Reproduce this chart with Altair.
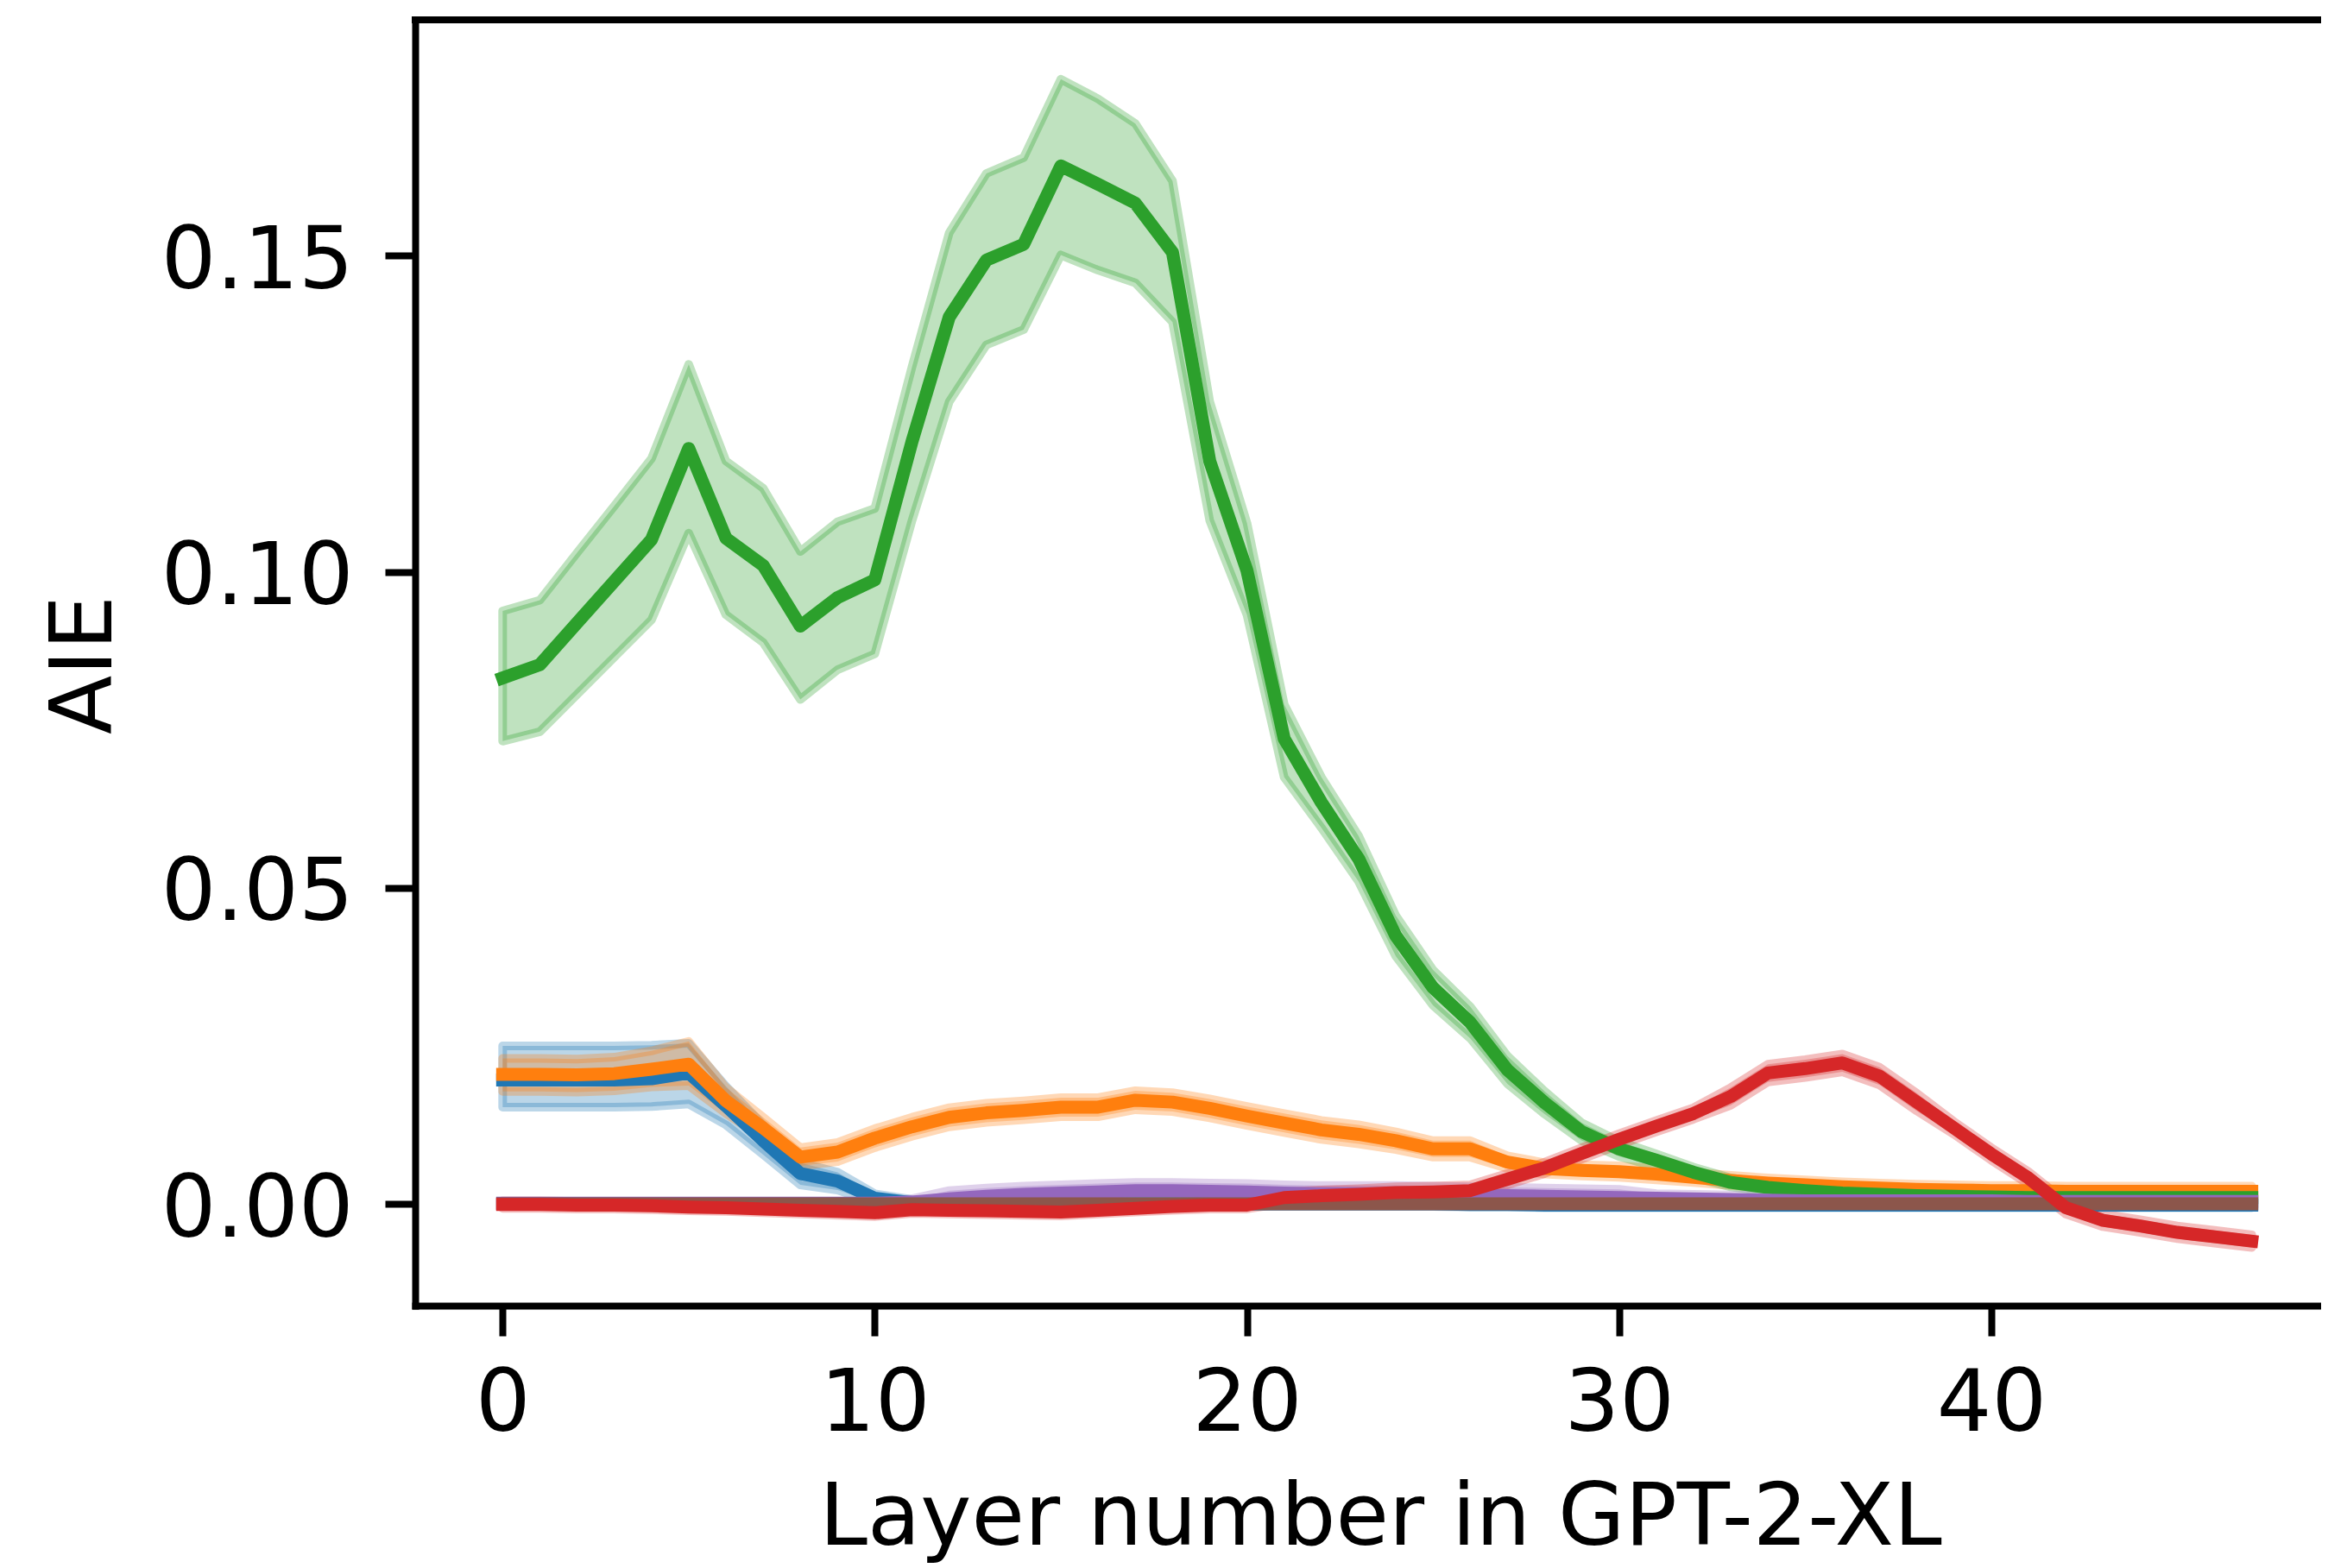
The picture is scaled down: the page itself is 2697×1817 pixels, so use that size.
import altair as alt
import pandas as pd

layers = list(range(48))

blue_mean = [0.0196, 0.0196, 0.0196, 0.0196, 0.0198, 0.0207, 0.0155, 0.0100, 0.0048, 0.0036,
             0.0009, 0.0002, 0.0000, 0.0000, 0.0000, 0.0000, 0.0000, 0.0000, 0.0000, 0.0000,
             0.0000, 0.0000, 0.0000, 0.0000, 0.0000, 0.0000, -0.0001, -0.0001, -0.0002, -0.0002,
             -0.0002, -0.0002, -0.0002, -0.0002, -0.0002, -0.0002, -0.0002, -0.0002, -0.0002, -0.0002,
             -0.0002, -0.0002, -0.0002, -0.0002, -0.0002, -0.0002, -0.0002, -0.0002]
blue_lo = [0.0153, 0.0153, 0.0153, 0.0153, 0.0154, 0.0158, 0.0125, 0.0078, 0.0030, 0.0022,
           0.0002, -0.0003, -0.0004, -0.0004, -0.0004, -0.0004, -0.0004, -0.0004, -0.0004, -0.0004,
           -0.0004, -0.0004, -0.0004, -0.0004, -0.0004, -0.0004, -0.0005, -0.0005, -0.0006, -0.0006,
           -0.0006, -0.0006, -0.0006, -0.0006, -0.0006, -0.0006, -0.0006, -0.0006, -0.0006, -0.0006,
           -0.0006, -0.0006, -0.0006, -0.0006, -0.0006, -0.0006, -0.0006, -0.0006]
blue_hi = [0.0250, 0.0250, 0.0250, 0.0250, 0.0251, 0.0254, 0.0186, 0.0125, 0.0065, 0.0050,
           0.0016, 0.0007, 0.0004, 0.0004, 0.0004, 0.0004, 0.0004, 0.0004, 0.0004, 0.0004,
           0.0004, 0.0004, 0.0004, 0.0004, 0.0004, 0.0004, 0.0003, 0.0003, 0.0002, 0.0002,
           0.0002, 0.0002, 0.0002, 0.0002, 0.0002, 0.0002, 0.0002, 0.0002, 0.0002, 0.0002,
           0.0002, 0.0002, 0.0002, 0.0002, 0.0002, 0.0002, 0.0002, 0.0002]

orange_mean = [0.0205, 0.0205, 0.0204, 0.0206, 0.0213, 0.0221, 0.0163, 0.0120, 0.0074, 0.0082,
               0.0104, 0.0122, 0.0137, 0.0144, 0.0148, 0.0153, 0.0153, 0.0164, 0.0161, 0.0151,
               0.0139, 0.0128, 0.0117, 0.0110, 0.0100, 0.0087, 0.0087, 0.0066, 0.0056, 0.0053,
               0.0051, 0.0047, 0.0042, 0.0037, 0.0033, 0.0030, 0.0027, 0.0025, 0.0023, 0.0022,
               0.0021, 0.0021, 0.0020, 0.0020, 0.0020, 0.0020, 0.0020, 0.0020]
orange_lo = [0.0178, 0.0178, 0.0177, 0.0179, 0.0185, 0.0187, 0.0143, 0.0104, 0.0060, 0.0067,
             0.0089, 0.0107, 0.0122, 0.0129, 0.0133, 0.0138, 0.0138, 0.0149, 0.0146, 0.0136,
             0.0124, 0.0113, 0.0102, 0.0095, 0.0086, 0.0074, 0.0074, 0.0056, 0.0047, 0.0044,
             0.0042, 0.0038, 0.0034, 0.0029, 0.0025, 0.0022, 0.0019, 0.0017, 0.0015, 0.0014,
             0.0013, 0.0013, 0.0012, 0.0012, 0.0012, 0.0012, 0.0012, 0.0012]
orange_hi = [0.0230, 0.0230, 0.0229, 0.0232, 0.0242, 0.0257, 0.0184, 0.0137, 0.0089, 0.0097,
             0.0119, 0.0137, 0.0152, 0.0159, 0.0163, 0.0168, 0.0168, 0.0179, 0.0176, 0.0166,
             0.0154, 0.0143, 0.0132, 0.0125, 0.0114, 0.0100, 0.0100, 0.0076, 0.0065, 0.0062,
             0.0060, 0.0056, 0.0050, 0.0045, 0.0041, 0.0038, 0.0035, 0.0033, 0.0031, 0.0030,
             0.0029, 0.0029, 0.0028, 0.0028, 0.0028, 0.0028, 0.0028, 0.0028]

green_mean = [0.0832, 0.0853, 0.0919, 0.0985, 0.1051, 0.1195, 0.1053, 0.1010, 0.0914, 0.0959,
              0.0987, 0.1206, 0.1403, 0.1493, 0.1518, 0.1642, 0.1613, 0.1583, 0.1505, 0.1175,
              0.1002, 0.0736, 0.0635, 0.0546, 0.0424, 0.0342, 0.0287, 0.0212, 0.0160, 0.0114,
              0.0087, 0.0069, 0.0050, 0.0034, 0.0026, 0.0021, 0.0017, 0.0015, 0.0013, 0.0012,
              0.0011, 0.0010, 0.0010, 0.0010, 0.0010, 0.0010, 0.0010, 0.0010]
green_lo = [0.0732, 0.0747, 0.0806, 0.0865, 0.0924, 0.1061, 0.0932, 0.0888, 0.0798, 0.0845,
            0.0870, 0.1081, 0.1269, 0.1359, 0.1383, 0.1501, 0.1477, 0.1457, 0.1395, 0.1081,
            0.0932, 0.0675, 0.0595, 0.0510, 0.0392, 0.0314, 0.0262, 0.0190, 0.0142, 0.0100,
            0.0075, 0.0059, 0.0042, 0.0027, 0.0019, 0.0014, 0.0011, 0.0009, 0.0007, 0.0006,
            0.0005, 0.0004, 0.0004, 0.0004, 0.0004, 0.0004, 0.0004, 0.0004]
green_hi = [0.0938, 0.0955, 0.1030, 0.1104, 0.1179, 0.1328, 0.1175, 0.1132, 0.1032, 0.1079,
            0.1100, 0.1324, 0.1536, 0.1630, 0.1655, 0.1779, 0.1748, 0.1709, 0.1618, 0.1269,
            0.1077, 0.0790, 0.0675, 0.0582, 0.0456, 0.0370, 0.0312, 0.0234, 0.0178, 0.0128,
            0.0099, 0.0079, 0.0058, 0.0041, 0.0033, 0.0028, 0.0023, 0.0021, 0.0019, 0.0018,
            0.0017, 0.0016, 0.0016, 0.0016, 0.0016, 0.0016, 0.0016, 0.0016]

purple_mean = [0.0001, 0.0001, 0.0001, 0.0001, 0.0001, 0.0001, 0.0001, 0.0001, 0.0001, 0.0001,
               0.0001, 0.0003, 0.0008, 0.0012, 0.0015, 0.0017, 0.0019, 0.0021, 0.0021, 0.0020,
               0.0019, 0.0017, 0.0016, 0.0016, 0.0016, 0.0015, 0.0014, 0.0013, 0.0012, 0.0011,
               0.0010, 0.0009, 0.0008, 0.0007, 0.0006, 0.0005, 0.0005, 0.0005, 0.0005, 0.0005,
               0.0005, 0.0004, 0.0004, 0.0004, 0.0004, 0.0004, 0.0004, 0.0004]
purple_lo = [-0.0002, -0.0002, -0.0002, -0.0002, -0.0002, -0.0002, -0.0002, -0.0002, -0.0002, -0.0002,
             -0.0002, -0.0002, -0.0005, -0.0001, 0.0002, 0.0004, 0.0006, 0.0008, 0.0008, 0.0007,
             0.0006, 0.0004, 0.0003, 0.0003, 0.0003, 0.0002, 0.0001, 0.0000, -0.0001, -0.0002,
             -0.0003, 0.0002, 0.0001, 0.0000, -0.0001, -0.0002, -0.0002, -0.0002, -0.0002, -0.0002,
             -0.0002, -0.0003, -0.0003, -0.0003, -0.0003, -0.0003, -0.0003, -0.0003]
purple_hi = [0.0004, 0.0004, 0.0004, 0.0004, 0.0004, 0.0004, 0.0004, 0.0004, 0.0004, 0.0004,
             0.0004, 0.0008, 0.0021, 0.0025, 0.0028, 0.0030, 0.0032, 0.0034, 0.0034, 0.0033,
             0.0032, 0.0030, 0.0029, 0.0029, 0.0029, 0.0028, 0.0027, 0.0026, 0.0025, 0.0024,
             0.0023, 0.0016, 0.0015, 0.0014, 0.0013, 0.0012, 0.0012, 0.0012, 0.0012, 0.0012,
             0.0012, 0.0011, 0.0011, 0.0011, 0.0011, 0.0011, 0.0011, 0.0011]

brown_mean = [0.0000, 0.0000, 0.0000, 0.0000, 0.0000, 0.0000, 0.0000, 0.0000, 0.0000, 0.0000,
              0.0000, 0.0000, 0.0000, 0.0000, 0.0000, 0.0000, 0.0000, 0.0000, 0.0000, 0.0000,
              0.0000, 0.0000, 0.0000, 0.0000, 0.0000, 0.0000, 0.0000, 0.0000, 0.0000, 0.0000,
              0.0000, 0.0000, 0.0000, 0.0000, 0.0000, 0.0000, 0.0000, 0.0000, 0.0000, 0.0000,
              0.0000, 0.0000, 0.0000, 0.0000, 0.0000, 0.0000, 0.0000, 0.0000]
brown_lo = [-0.0003, -0.0003, -0.0003, -0.0003, -0.0003, -0.0003, -0.0003, -0.0003, -0.0003, -0.0003,
            -0.0003, -0.0003, -0.0003, -0.0003, -0.0003, -0.0003, -0.0003, -0.0003, -0.0003, -0.0003,
            -0.0003, -0.0003, -0.0003, -0.0003, -0.0003, -0.0003, -0.0003, -0.0003, -0.0003, -0.0003,
            -0.0003, -0.0003, -0.0003, -0.0003, -0.0003, -0.0003, -0.0003, -0.0003, -0.0003, -0.0003,
            -0.0003, -0.0003, -0.0003, -0.0003, -0.0003, -0.0003, -0.0003, -0.0003]
brown_hi = [0.0003, 0.0003, 0.0003, 0.0003, 0.0003, 0.0003, 0.0003, 0.0003, 0.0003, 0.0003,
            0.0003, 0.0003, 0.0003, 0.0003, 0.0003, 0.0003, 0.0003, 0.0003, 0.0003, 0.0003,
            0.0003, 0.0003, 0.0003, 0.0003, 0.0003, 0.0003, 0.0003, 0.0003, 0.0003, 0.0003,
            0.0003, 0.0003, 0.0003, 0.0003, 0.0003, 0.0003, 0.0003, 0.0003, 0.0003, 0.0003,
            0.0003, 0.0003, 0.0003, 0.0003, 0.0003, 0.0003, 0.0003, 0.0003]

red_mean = [-0.0001, -0.0001, -0.0002, -0.0002, -0.0003, -0.0005, -0.0006, -0.0008, -0.0010, -0.0012,
            -0.0014, -0.0009, -0.0010, -0.0011, -0.0012, -0.0013, -0.0010, -0.0007, -0.0004, -0.0002,
            -0.0002, 0.0010, 0.0013, 0.0015, 0.0018, 0.0019, 0.0021, 0.0039, 0.0057, 0.0080,
            0.0102, 0.0123, 0.0143, 0.0170, 0.0207, 0.0214, 0.0223, 0.0202, 0.0161, 0.0120,
            0.0079, 0.0041, -0.0006, -0.0026, -0.0035, -0.0045, -0.0052, -0.0059]
red_lo = [-0.0007, -0.0007, -0.0008, -0.0008, -0.0009, -0.0011, -0.0012, -0.0014, -0.0016, -0.0018,
          -0.0020, -0.0015, -0.0016, -0.0017, -0.0018, -0.0019, -0.0016, -0.0013, -0.0010, -0.0008,
          -0.0008, 0.0001, 0.0004, 0.0006, 0.0009, 0.0010, 0.0012, 0.0030, 0.0048, 0.0071,
          0.0093, 0.0114, 0.0134, 0.0156, 0.0193, 0.0200, 0.0209, 0.0188, 0.0147, 0.0110,
          0.0069, 0.0031, -0.0016, -0.0036, -0.0045, -0.0055, -0.0062, -0.0069]
red_hi = [0.0005, 0.0005, 0.0004, 0.0004, 0.0003, 0.0001, 0.0000, -0.0002, -0.0004, -0.0006,
          -0.0008, -0.0003, -0.0004, -0.0005, -0.0006, -0.0007, -0.0004, -0.0001, 0.0002, 0.0004,
          0.0004, 0.0019, 0.0022, 0.0024, 0.0027, 0.0028, 0.0030, 0.0048, 0.0066, 0.0089,
          0.0111, 0.0132, 0.0152, 0.0184, 0.0221, 0.0228, 0.0237, 0.0216, 0.0175, 0.0130,
          0.0089, 0.0051, 0.0004, -0.0016, -0.0025, -0.0035, -0.0042, -0.0049]

# drawing order (last drawn on top); names sort in the same order
series_names = ["s1_blue", "s2_orange", "s3_green", "s4_purple", "s5_brown", "s6_red"]
series_colors = ["#1f77b4", "#ff7f0e", "#2ca02c", "#9467bd", "#8c564b", "#d62728"]
series_mean = [blue_mean, orange_mean, green_mean, purple_mean, brown_mean, red_mean]
series_lo = [blue_lo, orange_lo, green_lo, purple_lo, brown_lo, red_lo]
series_hi = [blue_hi, orange_hi, green_hi, purple_hi, brown_hi, red_hi]

x_ticks = [0, 10, 20, 30, 40]
y_ticks = [0.0, 0.05, 0.10, 0.15]

df = pd.concat(
    [pd.DataFrame({"layer": layers, "mean": m, "lo": lo, "hi": hi, "series": n})
     for n, m, lo, hi in zip(series_names, series_mean, series_lo, series_hi)],
    ignore_index=True,
)

# the original axes run a little past the right edge of the picture (it is cropped there)
W, H = 2229, 1490
FONT = "DejaVu Sans"

xscale = alt.Scale(domain=[-2.35, 49.35], nice=False, zero=False)
yscale = alt.Scale(domain=[-0.0161, 0.1873], nice=False, zero=False)
cscale = alt.Scale(domain=series_names, range=series_colors)

common_axis = dict(
    grid=False, domain=True, domainColor="black", domainWidth=8, domainCap="square",
    ticks=True, tickColor="black", tickWidth=8, tickSize=35,
    labelFont=FONT, labelFontSize=100, labelColor="black", labelOverlap=False, labelFlush=False,
    labelLimit=1000,
    titleFont=FONT, titleFontSize=100, titleFontWeight="normal", titleColor="black",
    titleLimit=3000,
)
xaxis = alt.Axis(values=x_ticks, format="d", labelPadding=30, labelAngle=0,
                 title="Layer number in GPT-2-XL", titleX=1118, titleY=276,
                 titleAlign="center", titleBaseline="alphabetic", titleAngle=0, **common_axis)
yaxis = alt.Axis(values=y_ticks, format=".2f", labelPadding=37, labelOffset=7,
                 labelBaseline="middle", title="AIE", titleX=-353, titleY=747,
                 titleAngle=270, titleAlign="center", titleBaseline="alphabetic", **common_axis)

base = alt.Chart(df)

bands = base.mark_area(fillOpacity=0.3, strokeOpacity=0.3, strokeWidth=10,
                       strokeJoin="round").encode(
    x=alt.X("layer:Q", scale=xscale, axis=xaxis),
    y=alt.Y("lo:Q", scale=yscale, axis=yaxis),
    y2=alt.Y2("hi:Q"),
    fill=alt.Fill("series:N", scale=cscale, legend=None),
    stroke=alt.Stroke("series:N", scale=cscale, legend=None),
)

lines = base.mark_line(strokeWidth=15, strokeCap="square", strokeJoin="round").encode(
    x=alt.X("layer:Q", scale=xscale, axis=xaxis),
    y=alt.Y("mean:Q", scale=yscale, axis=yaxis),
    color=alt.Color("series:N", scale=cscale, legend=None),
)

spine = alt.Chart(pd.DataFrame({"k": [0]})).mark_rule(
    color="black", strokeWidth=8, strokeCap="square"
).encode(x=alt.value(0), x2=alt.value(W), y=alt.value(0), y2=alt.value(0))

chart = alt.layer(bands, lines, spine).properties(
    width=W, height=H,
    autosize=alt.AutoSizeParams(type="none"),
    padding={"left": 473, "top": 15, "right": -21, "bottom": 298},
    background="white",
).configure_view(stroke="transparent", strokeWidth=0)

chart.save("out.html", embed_options={"renderer": "svg", "actions": False})
